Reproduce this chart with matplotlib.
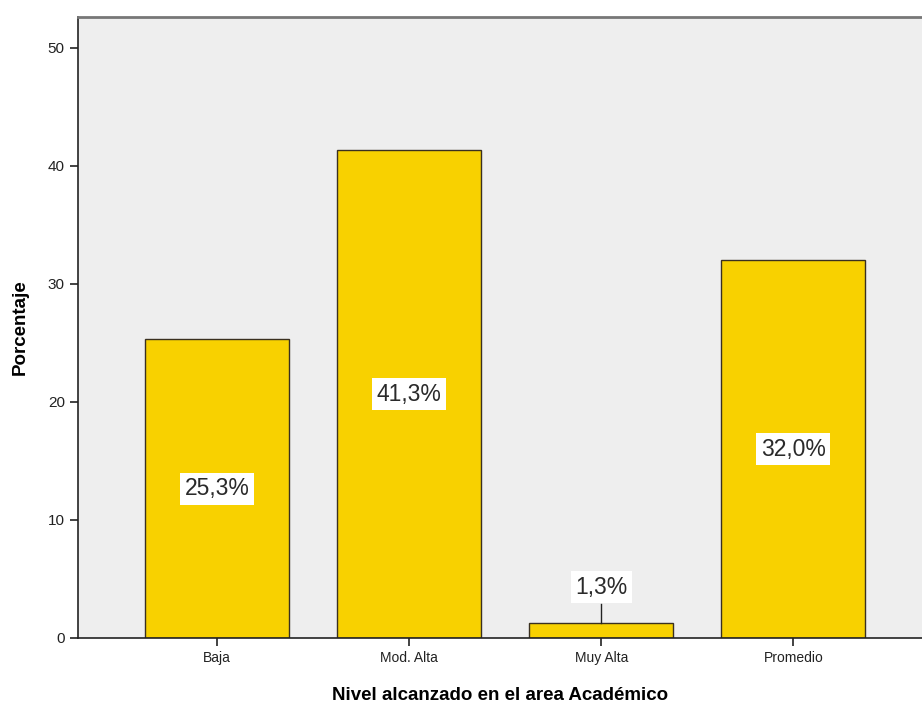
import numpy as np
import matplotlib
matplotlib.use('Agg')
import matplotlib.pyplot as plt

# data
categorias = ['Baja', 'Mod. Alta', 'Muy Alta', 'Promedio']
porcentajes = [25.3, 41.3, 1.3, 32.0]
etiquetas = ['25,3%', '41,3%', '1,3%', '32,0%']
yticks = [0, 10, 20, 30, 40, 50]

plt.rcParams['font.family'] = ['Liberation Sans', 'DejaVu Sans']

fig = plt.figure(figsize=(9.22, 7.07), dpi=100)
ax = fig.add_axes([0.0846, 0.0976, 0.9154, 0.8784])
ax.set_facecolor('#eeeeee')

x = np.arange(len(categorias))
bars = ax.bar(x, porcentajes, width=0.75, color='#f8d100', edgecolor='#3a3020', linewidth=1.0, zorder=2)

# value labels in white boxes
box = dict(boxstyle='square,pad=0.2', facecolor='white', edgecolor='none')
for xi, val, lab in zip(x, porcentajes, etiquetas):
    if val > 5:
        ax.text(xi, val / 2, lab, ha='center', va='center', fontsize=16.5, color='#2a2a2a', bbox=box, zorder=4)
    else:
        # small bar: label above with leader line
        ax.plot([xi, xi], [val, 2.9], color='#222222', linewidth=1.0, zorder=3)
        ax.text(xi, 4.3, lab, ha='center', va='center', fontsize=16.5, color='#2a2a2a', bbox=box, zorder=4)

ax.set_xlim(-0.724, 3.67)
ax.set_ylim(0, 52.6)
ax.set_xticks(x)
ax.set_xticklabels(categorias, fontsize=10, color='#222222')
ax.set_yticks(yticks)
ax.set_yticklabels([str(t) for t in yticks], fontsize=11, color='#222222')
ax.tick_params(axis='both', direction='out', length=6, width=1.2, color='#222222')

ax.set_xlabel('Nivel alcanzado en el area Académico', fontsize=13.5, fontweight='bold', labelpad=16)
ax.set_ylabel('Porcentaje', fontsize=13.5, fontweight='bold', labelpad=14)

ax.spines['right'].set_visible(False)
ax.spines['top'].set_color('#777777')
ax.spines['top'].set_linewidth(2)
ax.spines['left'].set_color('#222222')
ax.spines['left'].set_linewidth(1.2)
ax.spines['bottom'].set_color('#222222')
ax.spines['bottom'].set_linewidth(1.2)

plt.savefig('out.png', dpi=100)
